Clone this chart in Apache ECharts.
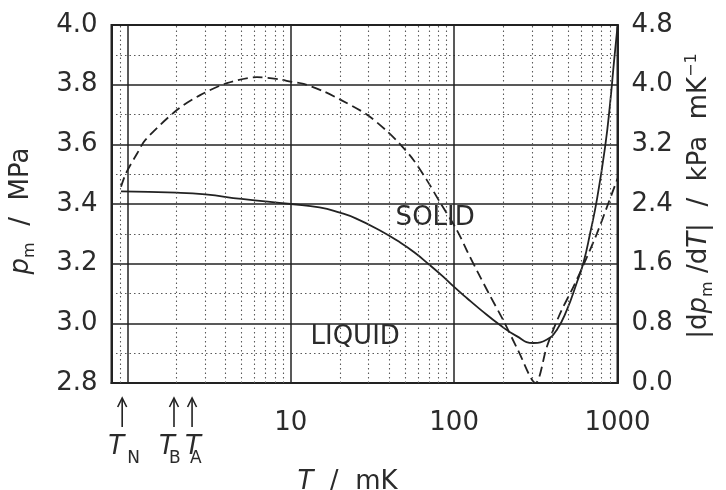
<!DOCTYPE html>
<html><head><meta charset="utf-8">
<script src="https://cdn.jsdelivr.net/npm/echarts@6/dist/echarts.min.js"></script>
<style>html,body{margin:0;padding:0;background:#fff}#c{width:726px;height:490px}</style>
</head><body><div id="c"></div>
<script>
// ---- data ----
const xTickLabels = ['10', '100', '1000'];
const meltT = [0.915, 2, 3, 5, 10, 15, 20, 25, 35, 47, 57, 70, 85, 100, 120, 145, 190, 240, 305, 370, 425, 490, 560, 620, 680, 750, 840, 900, 955, 1000];
const meltP = [3.442, 3.438, 3.432, 3.417, 3.400, 3.389, 3.371, 3.352, 3.312, 3.270, 3.238, 3.198, 3.158, 3.122, 3.084, 3.046, 2.995, 2.958, 2.934, 2.946, 2.978, 3.045, 3.132, 3.205, 3.302, 3.418, 3.592, 3.735, 3.885, 3.995];
const slopeT = [0.915, 0.98, 1.15, 1.29, 2.01, 2.79, 4.07, 6.21, 8.63, 10, 12, 15.9, 20.1, 29.2, 38.7, 46.8, 56.4, 68.1, 82.1, 104, 120, 140, 165, 200, 245, 315, 370, 445, 537, 618, 747, 879, 1000];
const slopeD = [2.63, 2.81, 3.08, 3.26, 3.66, 3.86, 4.02, 4.10, 4.07, 4.04, 4.01, 3.91, 3.80, 3.60, 3.38, 3.20, 2.99, 2.72, 2.42, 2.05, 1.77, 1.48, 1.18, 0.84, 0.45, 0.0, 0.49, 0.93, 1.29, 1.58, 2.0, 2.41, 2.74];
const transitionNames = ['N', 'B', 'A'];
const transitionT = [0.93, 1.93, 2.49];
const regionLabels = ['SOLID', 'LIQUID'];
const regionT = [76.6, 24.8];
const regionP = [3.353, 2.955];

// ---- chart ----
const FONT = 'DejaVu Sans';
const INK = '#222';
const TXT = '#2b2b2b';
const chart = echarts.init(document.getElementById('c'), null, {renderer: 'canvas'});

const minorX = [0.9];
[1, 10, 100].forEach(d => { for (let k = 2; k <= 9; k++) minorX.push(k * d); });

const dotted = {type: [1.5, 3], color: '#5a5a5a', width: 1.1};
const labelStyle = {fontFamily: FONT, fontSize: 26, color: TXT};
const richName = {
  i: {fontFamily: FONT, fontSize: 26, fontStyle: 'italic', color: TXT, lineHeight: 32},
  n: {fontFamily: FONT, fontSize: 26, color: TXT, lineHeight: 32},
  s: {fontFamily: FONT, fontSize: 16, color: TXT, lineHeight: 12, verticalAlign: 'bottom'},
  u: {fontFamily: FONT, fontSize: 16, color: TXT, lineHeight: 14, verticalAlign: 'top'}
};

chart.setOption({
  animation: false,
  backgroundColor: '#fff',
  grid: {left: 111.5, right: 108.5, top: 25, bottom: 107, show: true, borderColor: INK, borderWidth: 2, outerBoundsMode: 'none', containLabel: false},
  xAxis: {
    type: 'log', logBase: 10, min: 0.8, max: 1000,
    axisLine: {show: true, lineStyle: {color: INK, width: 2}},
    axisTick: {show: false},
    axisLabel: Object.assign({}, labelStyle, {
      margin: 27,
      formatter: v => {
        const r = Math.round(v);
        const s = String(r);
        return (Math.abs(v - r) < 1e-6 && xTickLabels.includes(s)) ? s : '';
      }
    }),
    splitLine: {show: true, lineStyle: {color: INK, width: 1.5}},
    name: '{i|T}{n|  /  mK}',
    nameLocation: 'middle', nameGap: 83,
    nameTextStyle: {rich: richName, padding: [0, 34, 0, 0]}
  },
  yAxis: [{
    type: 'value', min: 2.8, max: 4.0, interval: 0.2, position: 'left',
    axisLine: {show: true, lineStyle: {color: INK, width: 2}},
    axisTick: {show: false},
    axisLabel: Object.assign({}, labelStyle, {margin: 14, formatter: v => v.toFixed(1)}),
    splitLine: {show: true, lineStyle: {color: INK, width: 1.5}},
    minorTick: {show: false, splitNumber: 2},
    minorSplitLine: {show: true, lineStyle: dotted},
    name: '{i|p}{s|m}{n|  /  MPa}',
    nameLocation: 'middle', nameRotate: 90, nameGap: 74,
    nameTextStyle: {rich: richName, padding: [0, 14, 0, 0]}
  }, {
    type: 'value', min: 0, max: 4.8, interval: 0.8, position: 'right',
    axisLine: {show: true, lineStyle: {color: INK, width: 2}},
    axisTick: {show: false},
    axisLabel: Object.assign({}, labelStyle, {margin: 14, formatter: v => v.toFixed(1)}),
    splitLine: {show: false},
    name: '{n||d}{i|p}{s|m}{n| /d}{i|T}{n||  /  kPa  mK}{u|−1}',
    nameLocation: 'middle', nameRotate: 90, nameGap: 60,
    nameTextStyle: {rich: richName, padding: [0, 0, 0, 16]}
  }],
  series: [{
    type: 'line', yAxisIndex: 0, symbol: 'none', smooth: 0.5,
    lineStyle: {color: INK, width: 1.8},
    data: meltT.map((t, i) => [t, meltP[i]]),
    markLine: {
      silent: true, symbol: 'none', label: {show: false},
      lineStyle: dotted, emphasis: {disabled: true},
      data: minorX.map(v => ({xAxis: v}))
    },
    z: 3
  }, {
    type: 'line', yAxisIndex: 1, symbol: 'none', smooth: 0.3,
    lineStyle: {color: INK, width: 1.8, type: [10, 5]},
    data: slopeT.map((t, i) => [t, slopeD[i]]),
    z: 3
  }]
});

// annotations anchored to data coordinates
const graphics = [];
const tOff = [-14, -15, -7];
const sOff = [5, -5, -2];
transitionT.forEach((t, i) => {
  const x = chart.convertToPixel({xAxisIndex: 0}, t);
  graphics.push({type: 'line', shape: {x1: x, y1: 399, x2: x, y2: 427}, style: {stroke: INK, lineWidth: 1.6}});
  graphics.push({type: 'polyline', shape: {points: [[x - 4.5, 407], [x, 398], [x + 4.5, 407]]}, style: {stroke: INK, lineWidth: 1.6, fill: null}});
  graphics.push({type: 'text', x: x + tOff[i], y: 434, style: {text: 'T', fontFamily: FONT, fontSize: 26, fontStyle: 'italic', fill: TXT, textVerticalAlign: 'top'}});
  graphics.push({type: 'text', x: x + sOff[i], y: 450, style: {text: transitionNames[i], fontFamily: FONT, fontSize: 17, fill: TXT, textVerticalAlign: 'top'}});
});
regionLabels.forEach((s, i) => {
  const p = chart.convertToPixel({xAxisIndex: 0, yAxisIndex: 0}, [regionT[i], regionP[i]]);
  graphics.push({type: 'text', x: p[0], y: p[1], z: 10, style: {text: s, fontFamily: FONT, fontSize: 26, fill: TXT, textAlign: 'center', textVerticalAlign: 'middle'}});
});
chart.setOption({graphic: graphics});
</script>
</body></html>
